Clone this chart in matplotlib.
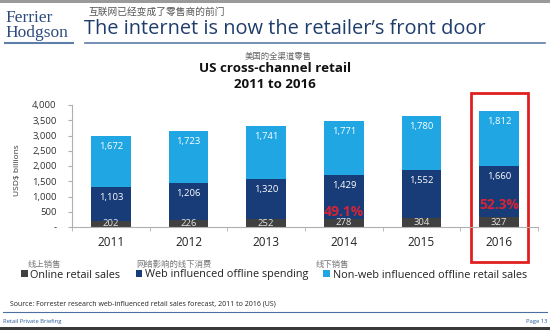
import matplotlib.pyplot as plt
import numpy as np
from matplotlib.lines import Line2D
from matplotlib.patches import Patch, Rectangle
from matplotlib.ticker import FuncFormatter

years = ['2011', '2012', '2013', '2014', '2015', '2016']
online_sales = [202, 226, 252, 278, 304, 327]
web_influenced = [1103, 1206, 1320, 1429, 1552, 1660]
non_web = [1672, 1723, 1741, 1771, 1780, 1812]
y_ticks = [0, 500, 1000, 1500, 2000, 2500, 3000, 3500, 4000]
series_names = ['Online retail sales', 'Web influenced offline spending',
                'Non-web influenced offline retail sales']
series_cn = ['线上销售', '网络影响的线下消费', '线下销售']

BASE = ['Open Sans', 'DejaVu Sans']
CJK = ['Noto Sans CJK SC', 'DejaVu Sans']
plt.rcParams['font.family'] = BASE

C_ONLINE, C_WEB, C_NONWEB = '#404040', '#173c78', '#1fa6e3'
NAVY = '#1f3d6b'
W, H = 550, 330


def fx(px):
    return px / W


def fy(py):
    return 1 - py / H


fig = plt.figure(figsize=(5.5, 3.3), dpi=100)

# slide frame
fig.add_artist(Rectangle((0, fy(2.5)), 1, 2.5 / H, transform=fig.transFigure, color='#9a9a9a', lw=0))
fig.add_artist(Rectangle((0, 0), 1, 3 / H, transform=fig.transFigure, color='#3a3a3a', lw=0))

# logo + header
fig.text(fx(5), fy(18), 'Ferrier', family='Liberation Serif', fontsize=12.5, color='#2d4b7c', va='center')
fig.text(fx(5), fy(33), 'Hodgson', family='Liberation Serif', fontsize=12.5, color='#2d4b7c', va='center')
fig.add_artist(Line2D([fx(5), fx(73)], [fy(43), fy(43)], transform=fig.transFigure, color='#5f7ea8', lw=1.5))
fig.add_artist(Line2D([fx(85), fx(545)], [fy(43), fy(43)], transform=fig.transFigure, color='#5f7ea8', lw=1.2))
fig.text(fx(88), fy(12), '互联网已经变成了零售商的前门', family=CJK, fontsize=7, color='#555555', va='center')
fig.text(fx(84), fy(29), 'The internet is now the retailer\u2019s front door', fontsize=14.4,
         color=NAVY, va='center')

# chart titles
fig.text(fx(278), fy(56), '美国的全渠道零售', family=CJK, fontsize=6, color='#666666', ha='center', va='center')
fig.text(fx(275), fy(69), 'US cross-channel retail', fontsize=9.6, fontweight='bold', color='#111111',
         ha='center', va='center')
fig.text(fx(275), fy(85), '2011 to 2016', fontsize=9.6, fontweight='bold', color='#111111',
         ha='center', va='center')

ax = fig.add_axes([fx(72), fy(227), (538 - 72) / W, (227 - 105) / H])
x = np.arange(len(years))
bw = 0.515
online = np.array(online_sales)
web = np.array(web_influenced)
nonweb = np.array(non_web)

ax.bar(x, online, bw, color=C_ONLINE)
ax.bar(x, web, bw, bottom=online, color=C_WEB)
ax.bar(x, nonweb, bw, bottom=online + web, color=C_NONWEB)

for i in range(len(years)):
    ax.text(x[i], online[i] / 2, f'{online[i]:,}', ha='center', va='center', fontsize=6.8, color='#e6e6e6')
    ax.annotate(f'{web[i]:,}', (x[i], online[i] + web[i]), xytext=(0, -7.5), textcoords='offset points',
                ha='center', va='center', fontsize=6.8, color='white')
    ax.annotate(f'{nonweb[i]:,}', (x[i], online[i] + web[i] + nonweb[i]), xytext=(0, -7.5),
                textcoords='offset points', ha='center', va='center', fontsize=6.8, color='white')

# web share callouts
share = (online + web) / (online + web + nonweb) * 100
for i, yy in [(3, 480), (5, 730)]:
    ax.text(x[i], yy, f'{share[i]:.1f}%', ha='center', va='center', fontsize=10, fontweight='bold',
            color='#e8222e', alpha=0.9)

# highlight box around 2016
ax.add_patch(Rectangle((x[-1] - 0.365, -1150), 0.73, 5545, fill=False, ec='#e02020', lw=2, clip_on=False))

ax.set_xlim(-0.5, len(years) - 0.5)
ax.set_ylim(0, 4000)
ax.set_yticks(y_ticks)
ax.yaxis.set_major_formatter(FuncFormatter(lambda v, p: '-' if v == 0 else f'{int(v):,}'))
ax.set_xticks(x)
ax.set_xticklabels(years)
ax.set_xticks(np.arange(len(years) + 1) - 0.5, minor=True)
ax.tick_params(axis='x', which='major', length=0, pad=6.5, labelsize=8.5, labelcolor='#222222')
ax.tick_params(axis='x', which='minor', length=3, color='#b0b0b0')
ax.tick_params(axis='y', length=3, color='#b0b0b0', pad=8, labelsize=6.8, labelcolor='#333333')
for s in ['top', 'right']:
    ax.spines[s].set_visible(False)
for s in ['left', 'bottom']:
    ax.spines[s].set_color('#b0b0b0')
    ax.spines[s].set_linewidth(0.8)
ax.set_ylabel('USD$ billions', fontsize=6, color='#333333')
ax.yaxis.set_label_coords((21 - 72) / (538 - 72), 0.47)

# legend
handles = [Patch(facecolor=c) for c in [C_ONLINE, C_WEB, C_NONWEB]]
fig.legend(handles, series_names, loc='center', bbox_to_anchor=(fx(274), fy(275)), ncol=3,
           frameon=False, fontsize=7.8, handlelength=0.6, handleheight=0.6, handletextpad=0.25,
           columnspacing=1.4, borderaxespad=0, borderpad=0, labelcolor='#222222')
for px, t in zip([28, 136, 316], series_cn):
    fig.text(fx(px), fy(264), t, family=CJK, fontsize=6, color='#777777', va='center')

# footer
fig.text(fx(10), fy(304), 'Source: Forrester research web-influenced retail sales forecast, 2011 to 2016 (US)',
         fontsize=5, color='#222222', va='center')
fig.add_artist(Line2D([fx(3), fx(547)], [fy(312), fy(312)], transform=fig.transFigure, color='#4a6fa0', lw=0.8))
fig.text(fx(3), fy(321), 'Retail Private Briefing', fontsize=4.2, color='#2a5b9c', va='center')
fig.text(fx(547), fy(321), 'Page 13', fontsize=4.2, color='#2a5b9c', va='center', ha='right')

fig.savefig('out.png', dpi=100)
